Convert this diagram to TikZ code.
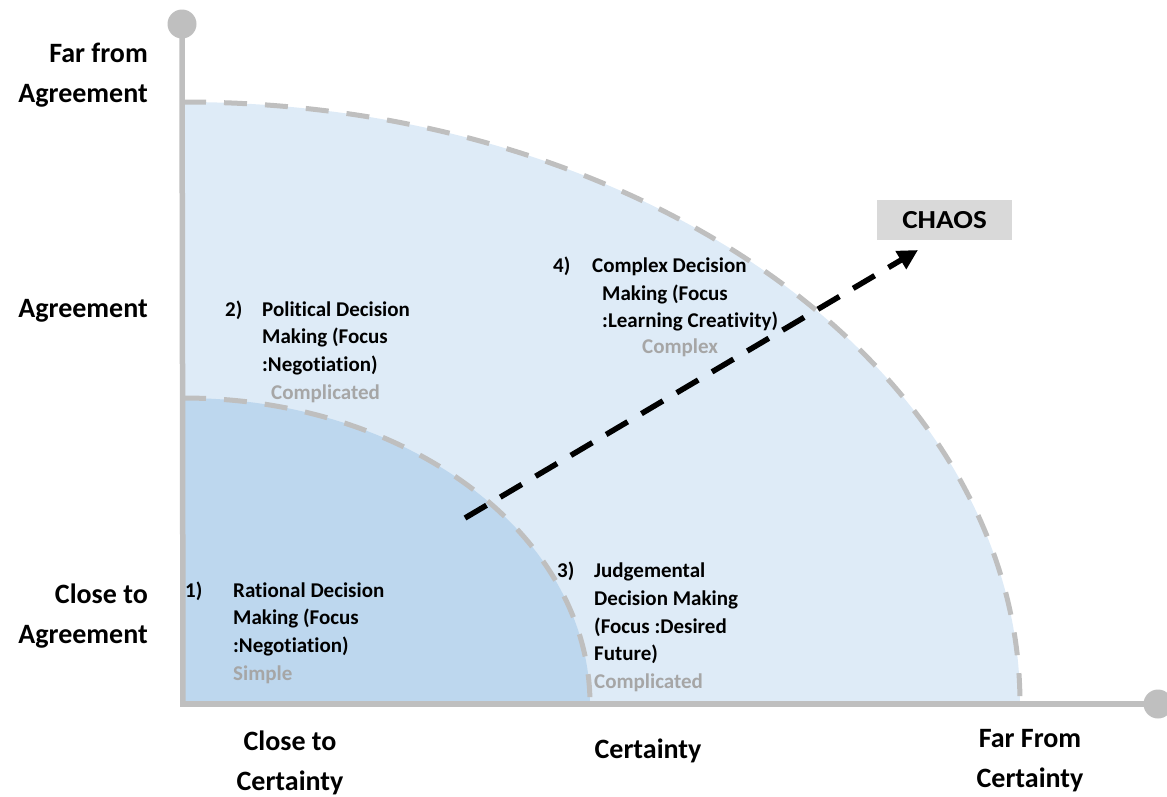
\documentclass[tikz,border=0pt]{standalone}
\usepackage{fontspec}
\setmainfont{Carlito}[RawFeature={-liga;-dlig;-clig}]
\usetikzlibrary{arrows.meta}
\definecolor{outerblue}{HTML}{DEEBF7}
\definecolor{innerblue}{HTML}{BDD7EE}
\definecolor{axisgray}{HTML}{BFBFBF}
\definecolor{labelgray}{HTML}{A6A6A6}
\definecolor{chaosgray}{HTML}{D9D9D9}
\begin{document}
\begin{tikzpicture}[x=1pt,y=-1pt,
  axislabel/.style={inner sep=0pt,font=\fontsize{28}{34}\selectfont\bfseries},
  zonetext/.style={inner sep=0pt,anchor=base west,font=\fontsize{21}{26}\selectfont\bfseries},
  zonetag/.style={zonetext,text=labelgray},
  boundary/.style={draw=axisgray,line width=5pt,dash pattern=on 23pt off 18pt},
  axisline/.style={draw=axisgray,line width=5.5pt},
  knob/.style={circle,fill=axisgray,minimum size=29pt,inner sep=0pt},
  trend/.style={line width=5.5pt,dash pattern=on 25pt off 16pt,-{Triangle[length=20pt,width=20pt]}}]
\useasboundingbox (0,0) rectangle (1167,796);

% regions
\fill[outerblue] (183,704) -- (183,102) arc[start angle=90,end angle=0,x radius=837pt,y radius=602pt] -- cycle;
\fill[innerblue] (183,704) -- (183,398) arc[start angle=90,end angle=0,x radius=407pt,y radius=306pt] -- cycle;
\draw[boundary] (183,102) arc[start angle=90,end angle=0,x radius=837pt,y radius=602pt];
\draw[boundary] (183,398) arc[start angle=90,end angle=0,x radius=407pt,y radius=306pt];

% axes
\node[knob] (ytop) at (182,24) {};
\node[knob] (xend) at (1158,704) {};
\coordinate (corner) at (183,704);
\draw[axisline] (ytop.center) -- (183,706.75);
\draw[axisline] (180.25,704) -- (xend.center);

% vertical axis labels
\node[axislabel,anchor=base east] (yfar1) at (148,62) {Far from};
\node[axislabel,anchor=base east] (yfar2) at (148,102) {Agreement};
\node[axislabel,anchor=base east] (ymid) at (148,317) {Agreement};
\node[axislabel,anchor=base east] (yclose1) at (148,603) {Close to};
\node[axislabel,anchor=base east] (yclose2) at (148,643) {Agreement};

% horizontal axis labels
\node[axislabel,anchor=base] (xclose1) at (290,750) {Close to};
\node[axislabel,anchor=base] (xclose2) at (290,790) {Certainty};
\node[axislabel,anchor=base] (xmid) at (648,758) {Certainty};
\node[axislabel,anchor=base] (xfar1) at (1030,747) {Far From};
\node[axislabel,anchor=base] (xfar2) at (1030,787) {Certainty};

% zone 1
\node[zonetext] (n1) at (185,597) {1)};
\node[zonetext] (z1a) at (233,597) {Rational Decision};
\node[zonetext] (z1b) at (233,624) {Making (Focus};
\node[zonetext] (z1c) at (233,652) {:Negotiation)};
\node[zonetag] (z1d) at (233,680) {Simple};

% zone 2
\node[zonetext] (n2) at (225,316) {2)};
\node[zonetext] (z2a) at (262,316) {Political Decision};
\node[zonetext] (z2b) at (262,343) {Making (Focus};
\node[zonetext] (z2c) at (262,371) {:Negotiation)};
\node[zonetag] (z2d) at (271,399) {Complicated};

% zone 3
\node[zonetext] (n3) at (557,577) {3)};
\node[zonetext] (z3a) at (594,577) {Judgemental};
\node[zonetext] (z3b) at (594,605) {Decision Making};
\node[zonetext] (z3c) at (594,633) {(Focus :Desired};
\node[zonetext] (z3d) at (594,660) {Future)};
\node[zonetag] (z3e) at (594,688) {Complicated};

% zone 4
\node[zonetext] (n4) at (553,272) {4)};
\node[zonetext] (z4a) at (592,272) {Complex Decision};
\node[zonetext] (z4b) at (602,300) {Making (Focus};
\node[zonetext] (z4c) at (602,327) {:Learning Creativity)};
\node[zonetag] (z4d) at (642,353) {Complex};

% chaos marker and trend arrow
\node[fill=chaosgray,minimum width=135pt,minimum height=40pt,inner sep=0pt,
      font=\fontsize{26}{30}\selectfont\bfseries] (chaos) at (944.5,220) {\scalebox{1.12}[1]{CHAOS}};
\coordinate (trendstart) at (465,518);
\coordinate (trendend) at (918,250);
\draw[trend] (trendstart) -- (trendend);
\end{tikzpicture}
\end{document}
